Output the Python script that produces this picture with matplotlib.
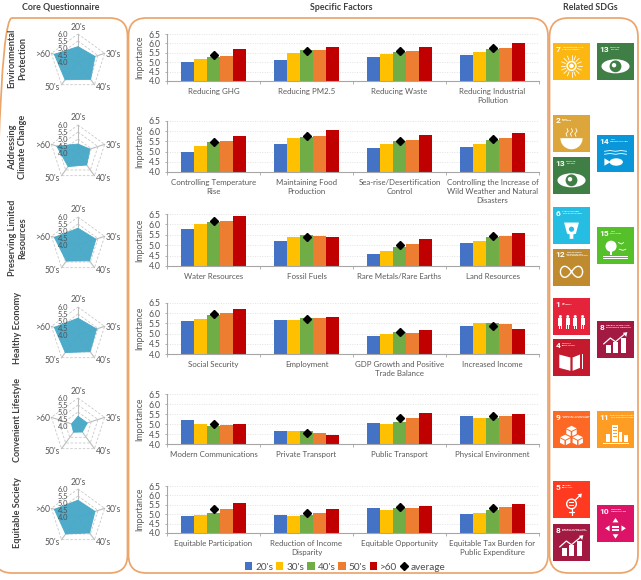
import numpy as np
import matplotlib
matplotlib.use("Agg")
import matplotlib.pyplot as plt
from matplotlib.patches import FancyBboxPatch, Rectangle, Circle, Ellipse, Polygon, Wedge, Patch
from matplotlib.lines import Line2D

W, H = 641, 580
plt.rcParams['font.family'] = ['Lato', 'DejaVu Sans']

AGES = ["20's", "30's", "40's", "50's", ">60"]
AGE_COLORS = ['#4472C4', '#FFC000', '#70AD47', '#ED7D31', '#C00000']
SCALE = ['4.0', '4.5', '5.0', '5.5', '6.0']

THEMES = ['Environmental\nProtection', 'Addressing\nClimate Change',
          'Preserving Limited\nResources', 'Healthy Economy',
          'Convenient Lifestyle', 'Equitable Society']

# Core questionnaire scores by age group
core_env = [5.10, 5.28, 5.53, 5.57, 5.78]
core_climate = [4.64, 4.90, 5.06, 5.20, 5.60]
core_resources = [5.20, 5.35, 5.40, 5.42, 5.78]
core_economy = [5.20, 5.40, 5.47, 5.55, 5.78]
core_lifestyle = [4.70, 4.70, 4.53, 4.55, 4.48]
core_society = [5.20, 5.28, 5.41, 5.50, 5.78]

# Specific factor labels
factors_env = ['Reducing GHG', 'Reducing PM2.5', 'Reducing Waste', 'Reducing Industrial\nPollution']
factors_climate = ['Controlling Temperature\nRise', 'Maintaining Food\nProduction',
                   'Sea-rise/Desertification\nControl',
                   'Controlling the Increase of\nWild Weather and Natural\nDisasters']
factors_resources = ['Water Resources', 'Fossil Fuels', 'Rare Metals/Rare Earths', 'Land Resources']
factors_economy = ['Social Security', 'Employment', 'GDP Growth and Positive\nTrade Balance', 'Increased Income']
factors_lifestyle = ['Modern Communications', 'Private Transport', 'Public Transport', 'Physical Environment']
factors_society = ['Equitable Participation', 'Reduction of Income\nDisparity', 'Equitable Opportunity',
                   'Equitable Tax Burden for\nPublic Expenditure']

# Importance per factor, one row per factor, one column per age group
imp_env = [[5.00, 5.15, 5.26, 5.33, 5.68], [5.10, 5.47, 5.65, 5.65, 5.83],
           [5.26, 5.44, 5.55, 5.60, 5.83], [5.37, 5.56, 5.68, 5.77, 6.00]]
imp_climate = [[5.00, 5.29, 5.48, 5.53, 5.76], [5.39, 5.65, 5.73, 5.76, 6.05],
               [5.16, 5.35, 5.53, 5.58, 5.81], [5.24, 5.39, 5.56, 5.65, 5.89]]
imp_resources = [[5.79, 6.00, 6.11, 6.18, 6.39], [5.20, 5.38, 5.51, 5.44, 5.41],
                 [4.57, 4.73, 4.89, 5.07, 5.30], [5.10, 5.19, 5.41, 5.44, 5.57]]
imp_economy = [[5.60, 5.73, 5.91, 6.02, 6.20], [5.68, 5.69, 5.76, 5.76, 5.80],
               [4.90, 5.00, 5.07, 5.05, 5.18], [5.37, 5.53, 5.53, 5.45, 5.25]]
imp_lifestyle = [[5.22, 5.00, 4.89, 4.96, 4.99], [4.67, 4.67, 4.65, 4.54, 4.45],
                 [5.07, 4.99, 5.12, 5.31, 5.53], [5.38, 5.29, 5.29, 5.41, 5.49]]
imp_society = [[4.93, 4.97, 5.09, 5.30, 5.58], [4.97, 4.93, 4.97, 5.09, 5.30],
               [5.32, 5.25, 5.32, 5.34, 5.46], [5.00, 5.09, 5.20, 5.37, 5.53]]

# Overall averages per factor
avg_env = [5.37, 5.61, 5.60, 5.77]
avg_climate = [5.45, 5.77, 5.53, 5.61]
avg_resources = [6.18, 5.41, 5.00, 5.43]
avg_economy = [5.97, 5.74, 5.07, 5.37]
avg_lifestyle = [5.00, 4.57, 5.29, 5.38]
avg_society = [5.29, 5.09, 5.37, 5.32]

fig = plt.figure(figsize=(W / 100, H / 100), dpi=100, facecolor='white')


def px_axes(x0, y0, x1, y1, **kw):
    return fig.add_axes([x0 / W, 1 - y1 / H, (x1 - x0) / W, (y1 - y0) / H], **kw)


# Full-figure canvas in pixel units for frames, headings and goal tiles
bg = px_axes(0, 0, W, H)
bg.set_xlim(0, W)
bg.set_ylim(H, 0)
bg.axis('off')

FRAME = '#EBA56B'
for x0, x1, rad in [(-6, 127.5, 18), (128.5, 548, 18), (549.5, 638, 19)]:
    bg.add_patch(FancyBboxPatch((x0, 18), x1 - x0, 555, boxstyle=f'round,pad=0,rounding_size={rad}',
                                fc='none', ec=FRAME, lw=1.25))

for x, s in [(61, 'Core Questionnaire'), (341, 'Specific Factors'), (590, 'Related SDGs')]:
    bg.text(x, 7, s, ha='center', va='center', fontsize=6.4, fontweight='bold', color='#404040')

# Theme names, rotated, beside the radar charts
theme_pos = [(17.5, 58), (17.5, 147), (17.5, 238), (18, 328), (18, 420), (18, 513)]
for (x, y), s in zip(theme_pos, THEMES):
    bg.text(x, y, s, rotation=90, ha='center', va='center', ma='center', fontsize=6.6,
            fontweight='bold', color='#404040', linespacing=1.25)


def radar(cy, values):
    cx, R = 78, 28
    ax = px_axes(cx - R, cy - R, cx + R, cy + R, projection='polar')
    ax.patch.set_alpha(0)
    ax.set_theta_zero_location('N')
    ax.set_theta_direction(-1)
    ax.set_rlim(4, 6)
    ax.axis('off')
    theta = 2 * np.pi * np.arange(5) / 5
    closed = np.r_[theta, theta[0]]
    for level in (4.5, 5.0, 5.5, 6.0):
        ax.plot(closed, [level] * 6, color='#c9c9c9', lw=0.6, ls=(0, (3, 2)), clip_on=False)
    for t in theta:
        ax.plot([t, t], [4, 6], color='#bdbdbd', lw=0.8, clip_on=False)
    ax.fill(closed, np.r_[values, values[0]], color='#47A9C8', alpha=0.96, lw=0.6, zorder=3)
    offsets = [(0, 7), (9, -1), (9, -2.5), (-9, -2.5), (-9, -1)]
    for t, name, off in zip(theta, AGES, offsets):
        ax.annotate(name, (t, 6), xytext=off, textcoords='offset pixels', ha='center', va='center',
                    fontsize=6.2, color='#595959', annotation_clip=False)
    for s in SCALE:
        ax.annotate(s, (0, float(s)), xytext=(-10, -0.5), textcoords='offset pixels', ha='right', va='center',
                    fontsize=5.4, color='#505050', zorder=5, annotation_clip=False)


for cy, vals in zip([62, 153, 245, 335, 426, 517],
                    [core_env, core_climate, core_resources, core_economy, core_lifestyle, core_society]):
    radar(cy, vals)


def factor_bars(x0, y0, x1, y1, labels, values, avgs):
    ax = px_axes(x0, y0, x1, y1)
    ax.patch.set_alpha(0)
    ax.set_xlim(0, 4)
    ax.set_ylim(4, 6.5)
    ax.set_axisbelow(True)
    ax.grid(axis='y', color='#e2e2e2', lw=0.7, ls=(0, (1, 1.5)))
    width = 0.14
    values = np.array(values)
    for j, color in enumerate(AGE_COLORS):
        ax.bar(np.arange(4) + 0.5 + (j - 2) * width, values[:, j], width=width, color=color, lw=0)
    ax.plot(np.arange(4) + 0.5, avgs, ls='none', marker='D', ms=3.6, color='black', zorder=4)
    for side in ('top', 'right'):
        ax.spines[side].set_visible(False)
    for side in ('left', 'bottom'):
        ax.spines[side].set_color('#a6a6a6')
        ax.spines[side].set_linewidth(0.8)
    ax.set_yticks(np.arange(4, 6.6, 0.5))
    ax.tick_params(axis='y', length=1.5, width=0.6, color='#a6a6a6', labelsize=6.2, labelcolor='#505050', pad=3)
    ax.set_xticks(range(5))
    ax.tick_params(axis='x', which='major', length=2, width=0.6, color='#a6a6a6', labelbottom=False)
    ax.set_xticks(np.arange(4) + 0.5, labels=labels, minor=True)
    ax.tick_params(axis='x', which='minor', length=0, pad=5, labelsize=5.65, labelcolor='#595959')
    for t in ax.get_xticklabels(minor=True):
        t.set_linespacing(1.3)
    ax.set_ylabel('Importance', fontsize=6.2, color='#595959', labelpad=3)
    return ax


rows = [(34, 81, factors_env, imp_env, avg_env),
        (121, 172, factors_climate, imp_climate, avg_climate),
        (214, 266, factors_resources, imp_resources, avg_resources),
        (303, 354, factors_economy, imp_economy, avg_economy),
        (394, 444, factors_lifestyle, imp_lifestyle, avg_lifestyle),
        (486, 533, factors_society, imp_society, avg_society)]
for y0, y1, labels, vals, avgs in rows:
    factor_bars(167, y0, 539, y1, labels, vals, avgs)

handles = [Patch(color=c, lw=0) for c in AGE_COLORS]
handles.append(Line2D([], [], ls='none', marker='D', ms=3.8, color='black'))
fig.legend(handles, AGES + ['average'], loc='center', bbox_to_anchor=(345 / W, 1 - 567 / H), ncol=6,
           frameon=False, fontsize=7.2, labelcolor='#505050', handlelength=0.72, handleheight=0.72,
           handletextpad=0.3, columnspacing=0.3, borderpad=0, borderaxespad=0)


# Goal tile artwork, drawn on a unit square with y pointing down
def tile(x0, y0, color, num, caption, icon, side=37):
    def P(u, v):
        return (x0 + u * side, y0 + v * side)

    white = 'white'
    bg.add_patch(Rectangle((x0, y0), side, side, fc=color, ec='none'))
    bg.text(*P(0.07, 0.17), num, color=white, fontsize=6.0, fontweight='bold', ha='left', va='center',
            family=['Liberation Sans Narrow', 'Roboto'])
    bg.text(*P(0.25 if len(num) == 1 else 0.36, 0.15), caption, color=white, fontsize=1.7, fontweight='bold',
            ha='left', va='center', linespacing=1.1)

    def poly(pts, fc=white):
        bg.add_patch(Polygon([P(*p) for p in pts], fc=fc, ec='none'))

    def rect(u, v, w, h, fc=white):
        bg.add_patch(Rectangle(P(u, v), w * side, h * side, fc=fc, ec='none'))

    def circ(u, v, r, fc=white, ec='none', lw=0):
        bg.add_patch(Circle(P(u, v), r * side, fc=fc, ec=ec, lw=lw))

    def line(us, vs, lw=0.8):
        xs, ys = zip(*[P(u, v) for u, v in zip(us, vs)])
        bg.plot(xs, ys, color=white, lw=lw, solid_capstyle='round')

    if icon == 'sun':
        circ(0.5, 0.62, 0.12, fc='none', ec=white, lw=1.1)
        circ(0.5, 0.62, 0.06)
        for a in np.arange(0, 2 * np.pi, np.pi / 8):
            line([0.5 + 0.17 * np.cos(a), 0.5 + 0.29 * np.cos(a)],
                 [0.62 + 0.17 * np.sin(a), 0.62 + 0.29 * np.sin(a)], lw=0.6)
    elif icon == 'eye':
        bg.add_patch(Ellipse(P(0.5, 0.63), 0.76 * side, 0.38 * side, fc=white, ec='none'))
        circ(0.5, 0.63, 0.16, fc=color)
        circ(0.46, 0.60, 0.06)
    elif icon == 'bowl':
        bg.add_patch(Wedge(P(0.5, 0.64), 0.3 * side, 0, 180, fc=white, ec='none'))
        for u in (0.38, 0.5, 0.62):
            line([u, u + 0.03, u - 0.03, u], [0.38, 0.45, 0.52, 0.59], lw=0.6)
    elif icon == 'fish':
        for v in (0.44, 0.52):
            line([0.2, 0.35, 0.5, 0.65, 0.8], [v, v - 0.02, v, v - 0.02, v], lw=0.6)
        bg.add_patch(Ellipse(P(0.52, 0.73), 0.36 * side, 0.2 * side, fc=white, ec='none'))
        poly([(0.2, 0.63), (0.37, 0.73), (0.2, 0.83)])
    elif icon == 'drop':
        poly([(0.3, 0.42), (0.7, 0.42), (0.62, 0.72), (0.55, 0.74), (0.55, 0.86), (0.45, 0.86), (0.45, 0.74), (0.38, 0.72)])
        circ(0.5, 0.60, 0.07, fc=color)
    elif icon == 'loop':
        a = np.linspace(0, 2 * np.pi, 60)
        d = 1 + np.sin(a) ** 2
        line(0.5 + 0.3 * np.cos(a) / d, 0.63 + 0.42 * np.sin(a) * np.cos(a) / d, lw=1.0)
    elif icon == 'tree':
        circ(0.38, 0.52, 0.15)
        rect(0.35, 0.55, 0.06, 0.22)
        rect(0.15, 0.79, 0.7, 0.03)
        rect(0.15, 0.85, 0.7, 0.02)
        line([0.58, 0.66, 0.72], [0.42, 0.46, 0.42], lw=0.6)
        line([0.6, 0.7, 0.78], [0.6, 0.63, 0.6], lw=0.6)
    elif icon == 'people':
        for u, s in zip((0.2, 0.4, 0.6, 0.8), (1, 0.8, 1, 0.8)):
            circ(u, 0.5, 0.04)
            rect(u - 0.055, 0.55, 0.11, 0.16 * s + 0.05)
            rect(u - 0.04, 0.72, 0.03, 0.11)
            rect(u + 0.01, 0.72, 0.03, 0.11)
    elif icon == 'book':
        poly([(0.17, 0.42), (0.47, 0.5), (0.47, 0.86), (0.17, 0.78)])
        poly([(0.53, 0.5), (0.73, 0.42), (0.73, 0.78), (0.53, 0.86)])
        rect(0.79, 0.40, 0.03, 0.4)
    elif icon == 'growth':
        for u, h in zip((0.24, 0.44, 0.64), (0.2, 0.3, 0.4)):
            rect(u, 0.86 - h, 0.14, h)
        line([0.18, 0.36, 0.5, 0.74], [0.62, 0.46, 0.56, 0.36], lw=0.9)
        poly([(0.7, 0.32), (0.82, 0.3), (0.79, 0.43)])
    elif icon == 'cubes':
        for u, v in [(0.5, 0.40), (0.33, 0.64), (0.67, 0.64)]:
            poly([(u, v), (u + 0.14, v + 0.07), (u, v + 0.14), (u - 0.14, v + 0.07)])
            poly([(u - 0.14, v + 0.10), (u - 0.02, v + 0.16), (u - 0.02, v + 0.28), (u - 0.14, v + 0.22)])
            poly([(u + 0.02, v + 0.16), (u + 0.14, v + 0.10), (u + 0.14, v + 0.22), (u + 0.02, v + 0.28)])
    elif icon == 'city':
        rect(0.4, 0.38, 0.16, 0.46)
        rect(0.25, 0.62, 0.1, 0.22)
        rect(0.6, 0.58, 0.08, 0.26)
        rect(0.72, 0.66, 0.12, 0.18)
        rect(0.15, 0.86, 0.72, 0.03)
        for v in (0.44, 0.52, 0.6, 0.68):
            rect(0.42, v, 0.12, 0.02, fc=color)
    elif icon == 'gender':
        circ(0.5, 0.62, 0.13, fc='none', ec=white, lw=1.0)
        rect(0.43, 0.58, 0.14, 0.025)
        rect(0.43, 0.64, 0.14, 0.025)
        line([0.5, 0.5], [0.75, 0.92], lw=0.9)
        line([0.44, 0.56], [0.85, 0.85], lw=0.9)
        line([0.6, 0.74], [0.52, 0.38], lw=0.9)
        poly([(0.66, 0.36), (0.78, 0.34), (0.76, 0.46)])
    elif icon == 'arrows':
        rect(0.4, 0.57, 0.2, 0.04)
        rect(0.4, 0.65, 0.2, 0.04)
        poly([(0.5, 0.35), (0.58, 0.47), (0.42, 0.47)])
        poly([(0.5, 0.91), (0.58, 0.79), (0.42, 0.79)])
        poly([(0.22, 0.63), (0.34, 0.55), (0.34, 0.71)])
        poly([(0.78, 0.63), (0.66, 0.55), (0.66, 0.71)])


GOAL_TILES = [
    (553, 43, '#FDB713', '7', 'AFFORDABLE AND\nCLEAN ENERGY', 'sun'),
    (597, 43, '#3F7E44', '13', 'CLIMATE\nACTION', 'eye'),
    (553, 114.5, '#DDA63A', '2', 'ZERO\nHUNGER', 'bowl'),
    (553, 157, '#3F7E44', '13', 'CLIMATE\nACTION', 'eye'),
    (597, 135, '#0A97D9', '14', 'LIFE\nBELOW WATER', 'fish'),
    (553, 207, '#26BDE2', '6', 'CLEAN WATER\nAND SANITATION', 'drop'),
    (553, 248.5, '#BF8B2E', '12', 'RESPONSIBLE\nCONSUMPTION\nAND PRODUCTION', 'loop'),
    (597, 227, '#56C02B', '15', 'LIFE\nON LAND', 'tree'),
    (553, 298, '#E5243B', '1', 'NO\nPOVERTY', 'people'),
    (553, 339, '#C5192D', '4', 'QUALITY\nEDUCATION', 'book'),
    (597, 321, '#A21942', '8', 'DECENT WORK AND\nECONOMIC GROWTH', 'growth'),
    (553, 411, '#FD6925', '9', 'INDUSTRY, INNOVATION\nAND INFRASTRUCTURE', 'cubes'),
    (597, 411, '#FD9D24', '11', 'SUSTAINABLE CITIES\nAND COMMUNITIES', 'city'),
    (553, 481, '#FF3A21', '5', 'GENDER\nEQUALITY', 'gender'),
    (553, 524, '#A21942', '8', 'DECENT WORK AND\nECONOMIC GROWTH', 'growth'),
    (597, 505, '#DD1367', '10', 'REDUCED\nINEQUALITIES', 'arrows'),
]
for spec in GOAL_TILES:
    tile(*spec)

fig.savefig('out.png', dpi=100, facecolor='white')
